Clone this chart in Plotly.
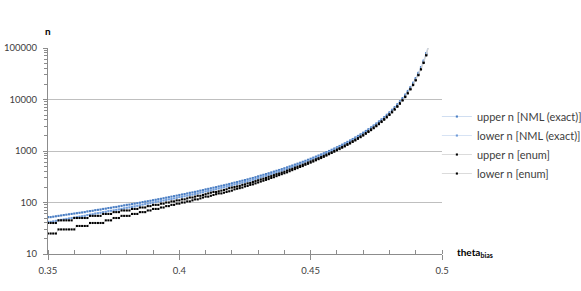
import plotly.graph_objects as go

theta = [0.350, 0.351, 0.352, 0.353, 0.354, 0.355, 0.356, 0.357, 0.358, 0.359,
         0.360, 0.361, 0.362, 0.363, 0.364, 0.365, 0.366, 0.367, 0.368, 0.369,
         0.370, 0.371, 0.372, 0.373, 0.374, 0.375, 0.376, 0.377, 0.378, 0.379,
         0.380, 0.381, 0.382, 0.383, 0.384, 0.385, 0.386, 0.387, 0.388, 0.389,
         0.390, 0.391, 0.392, 0.393, 0.394, 0.395, 0.396, 0.397, 0.398, 0.399,
         0.400, 0.401, 0.402, 0.403, 0.404, 0.405, 0.406, 0.407, 0.408, 0.409,
         0.410, 0.411, 0.412, 0.413, 0.414, 0.415, 0.416, 0.417, 0.418, 0.419,
         0.420, 0.421, 0.422, 0.423, 0.424, 0.425, 0.426, 0.427, 0.428, 0.429,
         0.430, 0.431, 0.432, 0.433, 0.434, 0.435, 0.436, 0.437, 0.438, 0.439,
         0.440, 0.441, 0.442, 0.443, 0.444, 0.445, 0.446, 0.447, 0.448, 0.449,
         0.450, 0.451, 0.452, 0.453, 0.454, 0.455, 0.456, 0.457, 0.458, 0.459,
         0.460, 0.461, 0.462, 0.463, 0.464, 0.465, 0.466, 0.467, 0.468, 0.469,
         0.470, 0.471, 0.472, 0.473, 0.474, 0.475, 0.476, 0.477, 0.478, 0.479,
         0.480, 0.481, 0.482, 0.483, 0.484, 0.485, 0.486, 0.487, 0.488, 0.489,
         0.490, 0.491, 0.492, 0.493, 0.494, 0.495]

upper_nml = [52, 52, 53, 54, 55, 56, 57, 58, 59, 60,
             61, 62, 63, 64, 65, 67, 68, 69, 71, 72,
             73, 75, 76, 78, 79, 81, 82, 84, 86, 88,
             90, 91, 93, 95, 97, 99, 102, 104, 106, 108,
             111, 113, 116, 118, 121, 124, 127, 130, 133, 136,
             140, 143, 146, 150, 154, 157, 161, 165, 170, 174,
             180, 184, 189, 194, 199, 205, 211, 216, 222, 229,
             236, 243, 250, 257, 265, 273, 281, 290, 299, 310,
             322, 333, 345, 357, 370, 384, 398, 413, 428, 444,
             462, 481, 501, 522, 545, 568, 592, 618, 646, 676,
             708, 743, 778, 817, 859, 903, 951, 1002, 1057, 1117,
             1182, 1252, 1328, 1411, 1502, 1601, 1710, 1830, 1962, 2108,
             2268, 2451, 2652, 2878, 3132, 3421, 3748, 4123, 4555, 5054,
             5633, 6316, 7124, 8089, 9254, 10677, 12437, 14647, 17472, 21163,
             26070, 32870, 42525, 56920, 79700, 118500]

lower_nml = [42, 42, 43, 44, 45, 46, 47, 48, 49, 50,
             51, 52, 53, 54, 55, 57, 58, 59, 61, 62,
             63, 65, 66, 68, 69, 70, 72, 73, 75, 77,
             79, 80, 82, 84, 86, 88, 91, 93, 95, 97,
             100, 102, 105, 106, 109, 112, 115, 117, 120, 123,
             127, 129, 132, 136, 140, 142, 146, 150, 155, 158,
             164, 168, 172, 177, 181, 187, 193, 197, 203, 209,
             216, 223, 229, 236, 244, 251, 259, 267, 276, 286,
             298, 308, 320, 331, 344, 357, 371, 385, 399, 415,
             432, 450, 469, 490, 512, 534, 557, 582, 609, 638,
             669, 702, 736, 773, 813, 856, 902, 950, 1003, 1061,
             1123, 1190, 1263, 1343, 1430, 1525, 1630, 1745, 1872, 2012,
             2166, 2342, 2535, 2753, 2997, 3276, 3591, 3952, 4368, 4849,
             5408, 6066, 6846, 7778, 8902, 10277, 11977, 14112, 16843, 20412,
             25158, 31720, 41037, 54928, 76911, 114353]

upper_enum = [40, 40, 40, 40, 45, 45, 45, 45, 45, 45,
              50, 50, 50, 50, 50, 50, 55, 55, 55, 55,
              55, 60, 60, 60, 60, 65, 65, 65, 70, 70,
              70, 70, 75, 75, 75, 80, 80, 80, 85, 85,
              90, 90, 90, 95, 95, 100, 100, 105, 105, 110,
              110, 115, 115, 120, 125, 125, 130, 135, 135, 140,
              145, 150, 155, 160, 160, 165, 170, 175, 180, 190,
              195, 200, 205, 210, 220, 225, 235, 240, 250, 260,
              270, 280, 290, 300, 315, 325, 340, 355, 365, 380,
              395, 415, 435, 450, 475, 495, 515, 540, 565, 595,
              625, 655, 690, 725, 765, 805, 850, 895, 945, 1005,
              1065, 1130, 1200, 1275, 1360, 1450, 1550, 1660, 1780, 1915,
              2065, 2235, 2420, 2630, 2865, 3130, 3435, 3780, 4180, 4645,
              5180, 5810, 6555, 7440, 8515, 9825, 11440, 13475, 16075, 19470,
              23985, 30240, 39125, 52365, 73325, 109020]

lower_enum = [25, 25, 25, 25, 30, 30, 30, 30, 30, 30,
              30, 35, 35, 35, 35, 35, 40, 40, 40, 40,
              40, 40, 45, 45, 45, 50, 50, 50, 55, 55,
              55, 55, 60, 60, 60, 65, 65, 65, 70, 70,
              75, 75, 75, 80, 80, 85, 85, 90, 90, 95,
              95, 100, 100, 105, 105, 110, 115, 115, 120, 125,
              130, 130, 135, 140, 145, 150, 150, 155, 160, 165,
              170, 180, 185, 190, 195, 205, 210, 220, 225, 235,
              245, 255, 265, 275, 285, 300, 310, 325, 340, 355,
              370, 385, 405, 425, 445, 465, 490, 510, 540, 565,
              595, 625, 660, 695, 730, 770, 815, 865, 915, 970,
              1030, 1090, 1160, 1230, 1315, 1400, 1500, 1605, 1725, 1855,
              1995, 2160, 2340, 2540, 2770, 3030, 3320, 3655, 4045, 4495,
              5015, 5630, 6355, 7225, 8275, 9555, 11145, 13140, 15690, 19025,
              23465, 29585, 38275, 51230, 71730, 106650]

series_names = ["upper n [NML (exact)]", "lower n [NML (exact)]",
                "upper n [enum]", "lower n [enum]"]

y_tickvals = [10, 100, 1000, 10000, 100000]
y_ticktext = ["10", "100", "1000", "10000", "100000"]
x_tickvals = [0.35, 0.4, 0.45, 0.5]
x_ticktext = ["0.35", "0.4", "0.45", "0.5"]

FONT = "Lato, 'Open Sans', sans-serif"
TXT = "#404040"

styles = [
    dict(line="#C3D4EC", marker="#4A7EC4"),
    dict(line="#CBDAF0", marker="#6F9BD8"),
    dict(line="#D0D0D0", marker="#000000"),
    dict(line="#D0D0D0", marker="#000000"),
]

fig = go.Figure()
for i, (name, ys, st) in enumerate(zip(series_names, [upper_nml, lower_nml, upper_enum, lower_enum], styles)):
    fig.add_trace(go.Scatter(
        x=theta, y=ys, name=name, mode="lines+markers", legendgroup=f"g{i}",
        line=dict(color=st["line"], width=0.8),
        marker=dict(symbol="square", size=2.1, color=st["marker"], line=dict(width=0)),
        cliponaxis=True,
    ))

fig.update_layout(
    width=581, height=291,
    margin=dict(l=48, r=139, t=48, b=37, pad=0, autoexpand=False),
    paper_bgcolor="white", plot_bgcolor="white",
    font=dict(family=FONT, size=9.5, color=TXT),
    showlegend=True,
    legend=dict(
        x=0.987, xanchor="left", y=0.529, yanchor="middle",
        font=dict(family=FONT, size=11, color=TXT),
        itemwidth=30, tracegroupgap=0, bgcolor="rgba(0,0,0,0)",
    ),
    xaxis=dict(
        range=[0.35, 0.5], tickvals=x_tickvals, ticktext=x_ticktext,
        automargin=False,
        showgrid=False, zeroline=False,
        showline=True, linecolor="#8C8C8C", linewidth=1,
        ticks="outside", ticklen=5, tickcolor="#8C8C8C",
        ticklabelstandoff=3,
        minor=dict(dtick=0.01, ticks="inside", ticklen=4, tickcolor="#8C8C8C", showgrid=False),
        tickfont=dict(family=FONT, size=9.5, color=TXT),
    ),
    yaxis=dict(
        type="log", range=[1, 5], tickvals=y_tickvals, ticktext=y_ticktext,
        automargin=False,
        showgrid=True, gridcolor="#BFBFBF", gridwidth=1,
        zeroline=False,
        showline=True, linecolor="#8C8C8C", linewidth=1,
        ticks="outside", ticklen=4, tickcolor="#8C8C8C",
        ticklabelstandoff=4,
        minor=dict(dtick="D1", ticks="outside", ticklen=3, tickcolor="#8C8C8C", showgrid=False),
        tickfont=dict(family=FONT, size=9.5, color=TXT),
    ),
)

fig.add_annotation(text="<b>n</b>", xref="paper", yref="paper", x=0.0, y=1.0,
                   xanchor="center", yanchor="bottom", yshift=9, showarrow=False,
                   font=dict(family=FONT, size=10, color="#000000"))
fig.add_annotation(text="<b>theta<sub>bias</sub></b>", xref="paper", yref="paper",
                   x=1.0, y=0.0, xanchor="left", yanchor="middle", xshift=13, yshift=2,
                   showarrow=False, font=dict(family=FONT, size=10, color="#000000"))

fig.write_html("out.html", config={"displayModeBar": False},
               post_script="document.body.style.margin='0px';")
